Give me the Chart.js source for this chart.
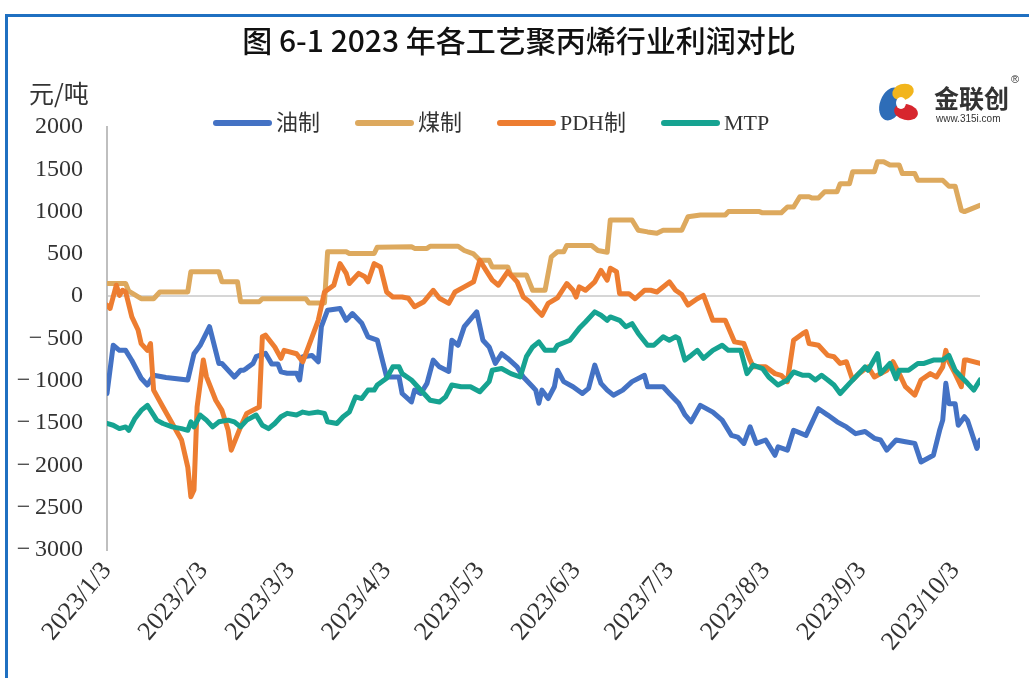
<!DOCTYPE html>
<html>
<head>
<meta charset="utf-8">
<script src="https://cdn.jsdelivr.net/npm/chart.js@4.4.1/dist/chart.umd.min.js"></script>
<style>
  html, body { margin: 0; padding: 0; background: #ffffff; }
  canvas { display: block; }
</style>
</head>
<body>
<canvas id="c" width="1029" height="678" style="width:1029px;height:678px"></canvas>
<script>
// ---------------- data ----------------
const chartTitle = '图 6-1 2023 年各工艺聚丙烯行业利润对比';
const unitLabel = '元/吨';
const seriesNames = ['油制', '煤制', 'PDH制', 'MTP'];
const startDate = '2023/1/3';
const tickLabels = ['2023/1/3', '2023/2/3', '2023/3/3', '2023/4/3', '2023/5/3',
  '2023/6/3', '2023/7/3', '2023/8/3', '2023/9/3', '2023/10/3'];
const yMin = -3000, yMax = 2000, yStep = 500;
const lastDay = 281; // days since 2023/1/3

// days since 2023/1/3 and profit (元/吨) for each process
const oilDays = [0,2,4,6,8,11,13,15,19,26,28,30,33,36,37,41,43,44,45,47,48,51,53,55,56,58,61,62,63,66,68,69,71,75,77,79,82,84,87,90,92,94,95,98,99,101,103,105,107,110,111,113,115,119,121,123,125,127,129,132,134,137,138,139,140,142,144,145,147,150,153,155,157,159,161,163,166,169,173,174,179,181,184,185,186,188,191,195,198,201,203,205,207,209,212,215,216,219,221,225,229,232,235,238,241,244,247,249,251,254,257,260,262,266,268,269,270,271,273,274,276,277,280,281];
const oilValues = [-1150,-580,-640,-640,-760,-970,-1050,-935,-960,-990,-680,-580,-360,-795,-795,-955,-875,-875,-850,-795,-715,-675,-800,-800,-895,-910,-910,-990,-715,-700,-775,-360,-165,-145,-285,-205,-320,-480,-520,-955,-955,-955,-1150,-1250,-1110,-1150,-1030,-755,-835,-890,-520,-580,-360,-185,-520,-600,-795,-680,-735,-835,-955,-1070,-1110,-1265,-1110,-1210,-1070,-875,-1010,-1070,-1150,-1090,-815,-1030,-1110,-1170,-1110,-1010,-935,-1070,-1070,-1150,-1265,-1330,-1400,-1485,-1290,-1370,-1465,-1645,-1665,-1740,-1545,-1740,-1700,-1880,-1780,-1820,-1585,-1645,-1330,-1405,-1485,-1545,-1625,-1600,-1680,-1700,-1820,-1700,-1720,-1740,-1960,-1880,-1585,-1465,-1030,-1270,-1270,-1525,-1425,-1470,-1800,-1700];

const coalDays = [0,6,7,11,15,17,26,27,36,37,42,43,49,50,64,65,70,71,77,78,86,87,98,99,103,104,113,115,118,120,123,124,129,130,135,137,141,143,145,147,148,156,158,161,162,169,171,174,177,179,185,187,191,199,200,210,211,217,219,221,223,226,227,229,231,235,236,239,240,247,248,250,252,255,256,260,261,269,271,273,275,276,278,281];
const coalValues = [150,150,60,-30,-30,50,50,290,290,170,170,-65,-65,-30,-30,-80,-80,525,525,505,505,580,585,565,565,590,590,540,500,425,425,345,345,250,250,70,70,465,525,525,600,600,540,520,900,900,780,760,745,780,780,940,960,960,1000,1000,985,985,1055,1055,1175,1175,1160,1160,1235,1235,1330,1330,1470,1470,1590,1590,1550,1550,1450,1450,1370,1370,1300,1300,1015,1000,1030,1075];

const pdhDays = [0,1,3,4,5,6,8,10,11,13,14,15,18,21,24,26,27,28,29,31,32,35,37,39,40,43,45,49,50,51,54,56,57,61,63,65,68,70,73,75,77,78,81,83,84,86,88,90,92,95,97,99,102,105,107,110,112,115,118,120,122,124,126,129,132,134,136,138,140,142,145,148,150,151,152,154,157,159,161,162,164,165,168,170,173,175,177,181,183,185,187,190,192,195,199,202,205,207,208,212,215,217,219,221,224,225,226,229,232,234,236,238,240,242,245,247,249,251,253,255,257,260,262,265,267,269,270,271,273,275,276,277,281];
const pdhValues = [-105,-145,130,10,70,50,-245,-400,-560,-640,-560,-1110,-1310,-1505,-1700,-2020,-2370,-2290,-1310,-755,-950,-1230,-1350,-1585,-1820,-1545,-1385,-1310,-480,-460,-600,-735,-640,-680,-775,-580,-285,50,130,385,270,150,270,230,170,385,345,50,-10,-10,-25,-125,-65,70,-25,-85,50,110,170,425,305,190,130,290,170,-10,-65,-150,-225,-85,-20,150,70,-10,110,70,170,305,190,330,290,30,30,-30,70,70,50,170,70,20,-105,-30,10,-285,-285,-540,-560,-755,-835,-835,-915,-935,-1010,-520,-440,-420,-560,-580,-700,-715,-795,-775,-990,-915,-835,-955,-915,-875,-775,-915,-1070,-1170,-990,-915,-955,-835,-640,-775,-915,-1070,-755,-755,-795];

const mtpDays = [0,2,4,6,7,9,11,13,15,16,18,21,24,26,27,28,30,32,34,36,39,41,43,45,48,50,52,54,56,58,61,63,65,68,70,71,74,76,78,80,82,84,86,87,90,92,94,95,98,100,102,104,107,109,111,114,117,120,123,124,127,130,133,135,137,139,141,144,145,149,152,154,157,159,161,162,165,167,169,171,174,176,179,181,183,184,186,188,190,192,195,198,200,204,206,208,211,213,216,219,221,224,226,228,230,232,234,236,239,242,244,245,248,249,252,254,255,258,261,263,266,269,271,273,275,277,279,281];
const mtpValues = [-1505,-1525,-1565,-1545,-1585,-1445,-1350,-1290,-1405,-1465,-1505,-1545,-1565,-1585,-1485,-1545,-1405,-1465,-1545,-1485,-1465,-1485,-1545,-1465,-1405,-1525,-1565,-1505,-1425,-1385,-1405,-1370,-1385,-1370,-1385,-1485,-1505,-1425,-1370,-1190,-1210,-1110,-1110,-1050,-970,-835,-835,-915,-990,-1070,-1150,-1230,-1250,-1190,-1050,-1070,-1070,-1130,-1010,-875,-855,-915,-955,-715,-600,-540,-640,-640,-580,-520,-380,-305,-185,-225,-285,-245,-285,-360,-325,-440,-580,-580,-480,-520,-480,-500,-755,-700,-640,-735,-640,-580,-640,-640,-915,-815,-855,-955,-1050,-990,-895,-935,-935,-990,-935,-990,-1050,-1150,-1030,-915,-835,-875,-680,-915,-795,-975,-875,-875,-795,-795,-755,-755,-700,-875,-955,-1030,-1110,-990];

// ---------------- helpers ----------------
function dayOffset(label) {
  const [y, m, d] = label.split('/').map(Number);
  const [y0, m0, d0] = startDate.split('/').map(Number);
  return Math.round((Date.UTC(y, m - 1, d) - Date.UTC(y0, m0 - 1, d0)) / 86400000);
}
const tickDays = tickLabels.map(dayOffset);
const pts = (xs, ys) => xs.map((x, i) => ({ x: x, y: ys[i] }));

const colors = ['#4472C4', '#DDA95E', '#ED7D31', '#16A391'];
const serif = "'Liberation Serif', 'Noto Sans CJK SC', serif";

const decorPlugin = {
  id: 'decor',
  afterDraw(chart) {
    const ctx = chart.ctx;
    ctx.save();
    // frame
    ctx.strokeStyle = '#1F70C1';
    ctx.lineWidth = 3;
    ctx.beginPath();
    ctx.moveTo(6.5, 678);
    ctx.lineTo(6.5, 15.5);
    ctx.lineTo(1029, 15.5);
    ctx.stroke();

    // title
    ctx.fillStyle = '#111';
    ctx.textAlign = 'center';
    ctx.textBaseline = 'middle';
    ctx.font = "500 30px 'Noto Sans CJK SC', sans-serif";
    ctx.fillText(chartTitle, 519, 41);

    // unit
    ctx.textAlign = 'left';
    ctx.font = "25px 'Noto Sans CJK SC', sans-serif";
    ctx.fillStyle = '#333';
    ctx.fillText(unitLabel, 29, 93);

    // legend
    ctx.font = "22px " + serif;
    let x = 213;
    chart.data.datasets.forEach((ds) => {
      ctx.strokeStyle = ds.borderColor;
      ctx.lineWidth = 6;
      ctx.lineCap = 'round';
      ctx.beginPath();
      ctx.moveTo(x + 3, 123);
      ctx.lineTo(x + 56, 123);
      ctx.stroke();
      ctx.fillStyle = '#333';
      ctx.textAlign = 'left';
      ctx.fillText(ds.label, x + 63, 124);
      x += 63 + ctx.measureText(ds.label).width + 35;
    });

    // logo
    const cx = 898, cy = 102;
    ctx.lineCap = 'butt';
    ctx.fillStyle = '#2E6DB8';
    ctx.beginPath();
    ctx.ellipse(cx - 7, cy + 2, 11, 17, 0.35, 0, Math.PI * 2);
    ctx.fill();
    ctx.fillStyle = '#F2B51C';
    ctx.beginPath();
    ctx.ellipse(cx + 5, cy - 10, 11, 8, -0.3, 0, Math.PI * 2);
    ctx.fill();
    ctx.fillStyle = '#D7262E';
    ctx.beginPath();
    ctx.ellipse(cx + 8, cy + 10, 12, 8, 0.2, 0, Math.PI * 2);
    ctx.fill();
    ctx.fillStyle = '#ffffff';
    ctx.beginPath();
    ctx.ellipse(cx + 3, cy + 1, 5, 6, 0, 0, Math.PI * 2);
    ctx.fill();
    ctx.fillStyle = '#333';
    ctx.textAlign = 'left';
    ctx.font = "bold 25px 'Noto Sans CJK SC', sans-serif";
    ctx.fillText('金联创', 934, 98);
    ctx.font = "11px 'Liberation Sans', sans-serif";
    ctx.fillText('®', 1011, 80);
    ctx.font = "10px 'Liberation Sans', sans-serif";
    ctx.fillText('www.315i.com', 936, 119);
    ctx.restore();
  }
};

new Chart(document.getElementById('c'), {
  type: 'line',
  data: {
    datasets: [
      { label: seriesNames[0], data: pts(oilDays, oilValues), borderColor: colors[0], order: 4 },
      { label: seriesNames[1], data: pts(coalDays, coalValues), borderColor: colors[1], order: 3 },
      { label: seriesNames[2], data: pts(pdhDays, pdhValues), borderColor: colors[2], order: 2 },
      { label: seriesNames[3], data: pts(mtpDays, mtpValues), borderColor: colors[3], order: 1 }
    ]
  },
  options: {
    responsive: false,
    animation: false,
    layout: { padding: { top: 127, right: 49, left: 0, bottom: 0 } },
    elements: {
      line: { borderWidth: 5, tension: 0, borderJoinStyle: 'round', borderCapStyle: 'round', fill: false },
      point: { radius: 0, hoverRadius: 0 }
    },
    plugins: { legend: { display: false }, title: { display: false }, tooltip: { enabled: false } },
    scales: {
      x: {
        type: 'linear',
        min: 0,
        max: lastDay,
        afterBuildTicks: (s) => { s.ticks = tickDays.map(v => ({ value: v })); },
        afterFit: (s) => { s.height = 128; },
        grid: { display: false, drawTicks: false },
        border: { display: false },
        ticks: {
          autoSkip: false,
          minRotation: 50,
          maxRotation: 50,
          padding: 6,
          color: '#333',
          font: { family: serif, size: 26 },
          callback: (v) => { const i = tickDays.indexOf(v); return i >= 0 ? tickLabels[i] : ''; }
        }
      },
      y: {
        min: yMin,
        max: yMax,
        afterFit: (s) => { s.width = 107; },
        grid: {
          drawTicks: false,
          lineWidth: 2,
          color: (c) => (c.tick && c.tick.value === 0 ? '#D6D6D6' : 'rgba(0,0,0,0)')
        },
        border: { display: true, color: '#BFBFBF', width: 2 },
        ticks: {
          stepSize: yStep,
          padding: 24,
          color: '#333',
          font: { family: serif, size: 24 },
          callback: (v) => (v < 0 ? '\u2212\u2009' + Math.abs(v) : String(v))
        }
      }
    }
  },
  plugins: [decorPlugin]
});
</script>
</body>
</html>
